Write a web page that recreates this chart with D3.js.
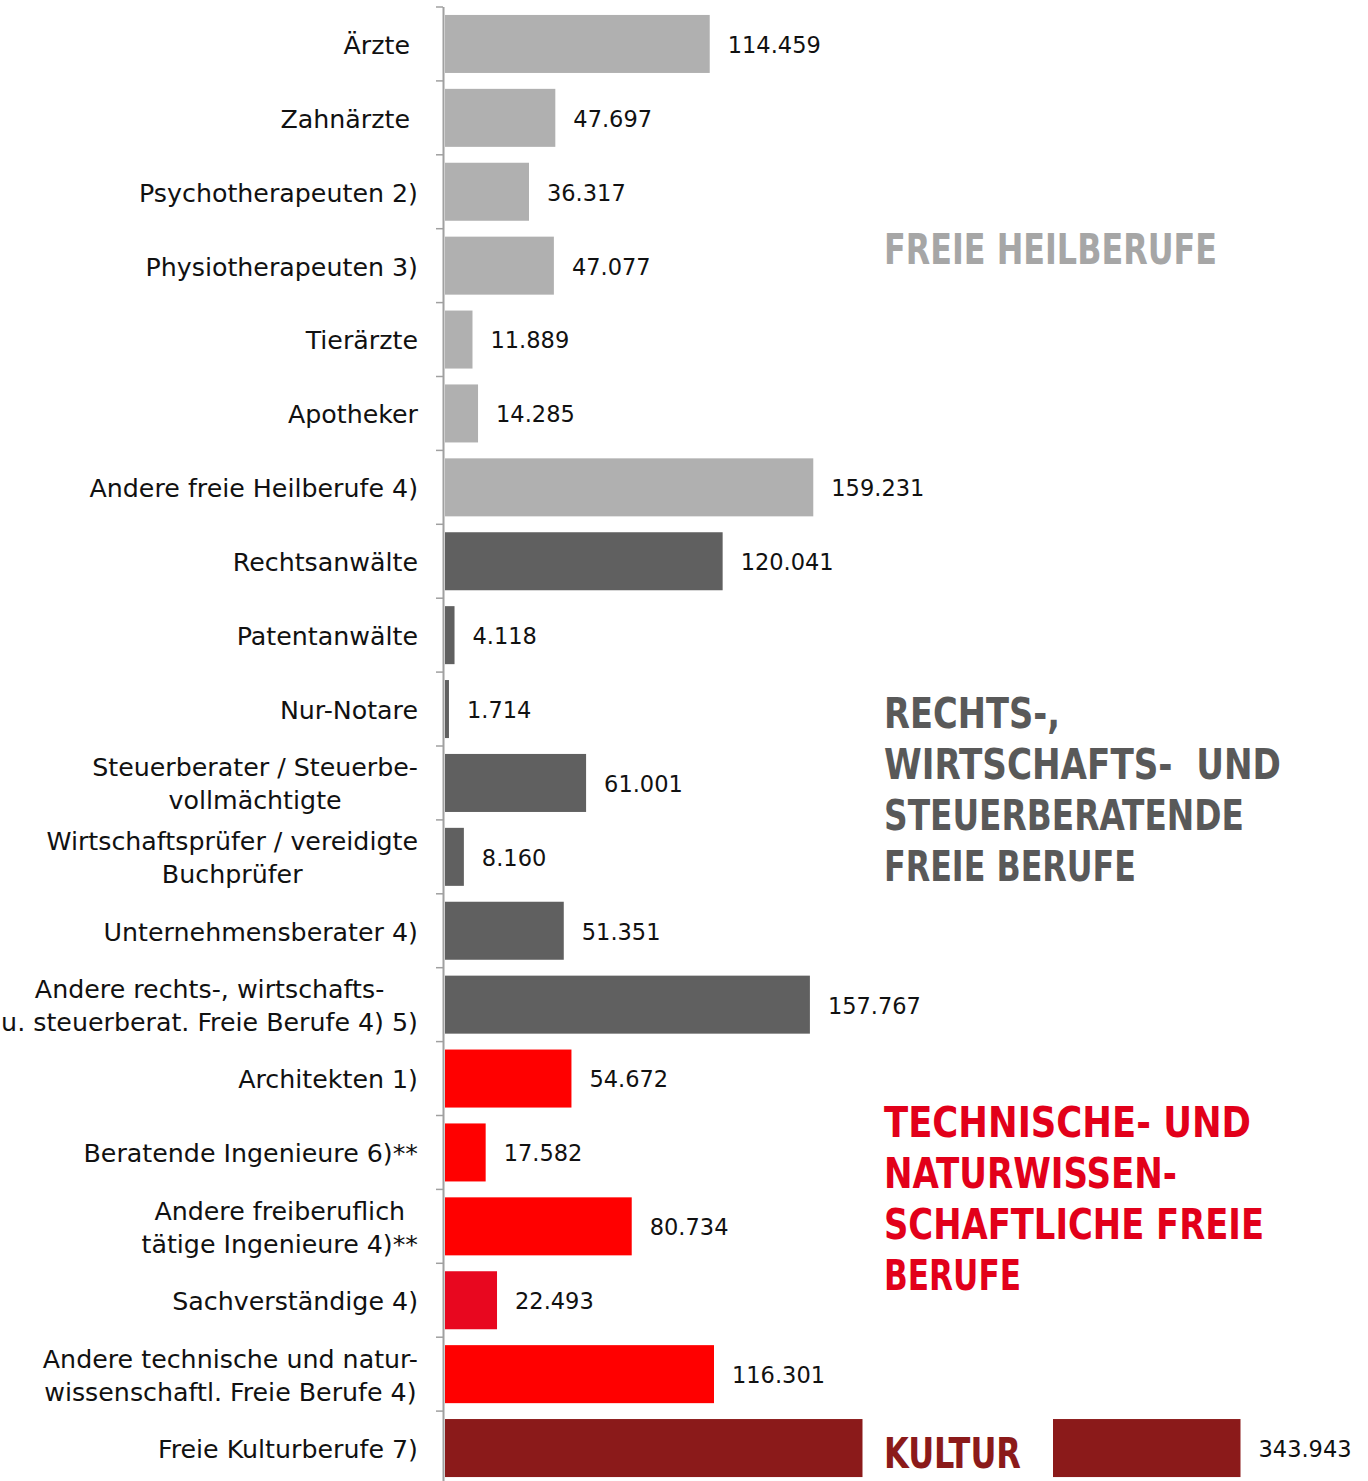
<!DOCTYPE html>
<html><head><meta charset="utf-8">
<script src="https://cdn.jsdelivr.net/npm/d3@7"></script>
<style>
html,body{margin:0;padding:0;background:#fff;}
svg{display:block;}
text{white-space:pre;}
</style></head>
<body>
<script>
// ---- data ----
const categories = [
  "Ärzte ", "Zahnärzte ", "Psychotherapeuten 2)", "Physiotherapeuten 3)", "Tierärzte", "Apotheker",
  "Andere freie Heilberufe 4)", "Rechtsanwälte", "Patentanwälte", "Nur-Notare",
  "Steuerberater / Steuerbe-\nvollmächtigte", "Wirtschaftsprüfer / vereidigte\nBuchprüfer",
  "Unternehmensberater 4)", "Andere rechts-, wirtschafts-\nu. steuerberat. Freie Berufe 4) 5)",
  "Architekten 1)", "Beratende Ingenieure 6)**", "Andere freiberuflich\ntätige Ingenieure 4)**",
  "Sachverständige 4)", "Andere technische und natur-\nwissenschaftl. Freie Berufe 4)", "Freie Kulturberufe 7)"
];
const values = [114459, 47697, 36317, 47077, 11889, 14285, 159231, 120041, 4118, 1714,
  61001, 8160, 51351, 157767, 54672, 17582, 80734, 22493, 116301, 343943];
const valueLabels = ["114.459","47.697","36.317","47.077","11.889","14.285","159.231","120.041","4.118","1.714",
  "61.001","8.160","51.351","157.767","54.672","17.582","80.734","22.493","116.301","343.943"];
const groups = ["heil","heil","heil","heil","heil","heil","heil","recht","recht","recht",
  "recht","recht","recht","recht","tech","tech","tech","tech","tech","kultur"];
const headingGroups = ["heil","recht","tech","kultur"];
const headingTexts = [
  ["FREIE HEILBERUFE"],
  ["RECHTS-,", "WIRTSCHAFTS-  UND", "STEUERBERATENDE", "FREIE BERUFE"],
  ["TECHNISCHE- UND", "NATURWISSEN-", "SCHAFTLICHE FREIE", "BERUFE"],
  ["KULTUR"]
];

// ---- styles ----
const barColor = {heil:"#B0B0B0", recht:"#606060", tech:"#FF0000", kultur:"#8B1A1A"};
const barColorOverride = {"Sachverständige 4)":"#E8071F"};
const headColor = {heil:"#A6A6A6", recht:"#595959", tech:"#E2001A", kultur:"#8B1A1A"};
const headFirstBaseline = {heil:264, recht:728, tech:1137, kultur:1468};
const headLineWidths = [[333],[176,397,360,252],[367,293,380,137],[137]];

const W = 1368, H = 1481;
const svg = d3.select("body").append("svg").attr("width", W).attr("height", H);

const y = d3.scaleBand().domain(categories).range([7, 1485]).paddingInner(0.215).paddingOuter(0.1075);
const x = d3.scaleLinear().domain([0, 343943]).range([445, 1240.5]);

const data = categories.map((c,i)=>({c, v:values[i], lab:valueLabels[i], g:groups[i]}));

// bars
svg.append("g").selectAll("rect").data(data).join("rect")
  .attr("x", x(0)).attr("y", d=>y(d.c))
  .attr("width", d=>x(d.v)-x(0)).attr("height", y.bandwidth())
  .attr("fill", d=>barColorOverride[d.c] || barColor[d.g]);

// axis
const axisG = svg.append("g");
const step = y.step();
const bounds = categories.map(c=>y(c) - step*0.1075);
axisG.append("line").attr("x1",443.5).attr("x2",443.5).attr("y1",bounds[0]).attr("y2",H)
  .attr("stroke","#A0A0A0").attr("stroke-width",2);
axisG.selectAll("line.t").data(bounds).join("line").attr("class","t")
  .attr("x1",436).attr("x2",443).attr("y1",d=>d).attr("y2",d=>d)
  .attr("stroke","#A0A0A0").attr("stroke-width",1.5);

// category labels
const labFont = "'DejaVu Sans', sans-serif";
const labG = svg.append("g").attr("font-family", labFont).attr("font-size", 25.3).attr("fill","#111");
data.forEach(d=>{
  const lines = d.c.split("\n");
  const cy = y(d.c) + y.bandwidth()/2 + 1;
  if (lines.length === 1) {
    labG.append("text").attr("x",418).attr("y",cy).attr("dy","0.35em")
      .attr("text-anchor","end").text(lines[0]);
  } else {
    const ts = lines.map((l,k)=>labG.append("text").attr("y", cy + (k-0.5)*33).attr("dy","0.35em")
      .attr("text-anchor","middle").text(l));
    const wmax = d3.max(ts, t=>t.node().getComputedTextLength());
    ts.forEach(t=>t.attr("x", 418 - wmax/2));
  }
});

// heading blocks (white gap in Kultur bar)
const headFont = "'Liberation Sans Narrow','DejaVu Sans Condensed','Arial Narrow',sans-serif";
headingGroups.forEach((g,i)=>{
  const gEl = svg.append("g").attr("font-family", headFont).attr("font-weight","bold")
    .attr("font-size", 42).attr("fill", headColor[g]);
  const texts = headingTexts[i].map((t,k)=>gEl.append("text").attr("x",884)
    .attr("y", headFirstBaseline[g] + k*51)
    .attr("textLength", headLineWidths[i][k]).attr("lengthAdjust","spacingAndGlyphs").text(t));
  if (g === "kultur") {
    const cat = categories[groups.indexOf("kultur")];
    gEl.insert("rect","text").attr("x",862.5).attr("y",y(cat)-1).attr("width",1053-862.5)
      .attr("height",y.bandwidth()+2).attr("fill","#fff");
  }
});

// value labels
svg.append("g").attr("font-family", labFont).attr("font-size", 22.5).attr("fill","#111")
  .selectAll("text").data(data).join("text")
  .attr("x", d=>x(d.v)+18).attr("y", d=>y(d.c)+y.bandwidth()/2+1).attr("dy","0.35em")
  .text(d=>d.lab);
</script>
</body></html>
